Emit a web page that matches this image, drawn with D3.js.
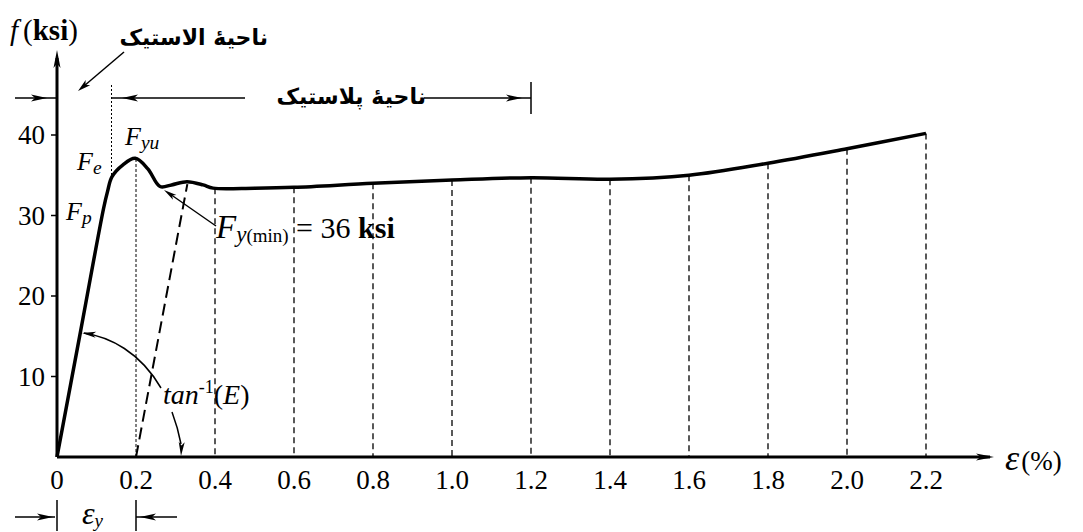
<!DOCTYPE html>
<html>
<head>
<meta charset="utf-8">
<script src="https://cdn.jsdelivr.net/npm/d3@7.9.0/dist/d3.min.js"></script>
<style>
  body { margin: 0; background: #fff; }
  svg { display: block; }
  text { font-family: "Liberation Serif", "Times New Roman", serif; fill: #000; }
  .fa { font-family: "DejaVu Sans", sans-serif; font-weight: bold; }
</style>
</head>
<body>
<svg id="chart" width="1083" height="532"></svg>
<script>
// ---- data ----
const strain = [0, 0.06, 0.118, 0.128, 0.139, 0.167, 0.198, 0.23, 0.261, 0.29, 0.329, 0.37, 0.395,
                0.5, 0.6, 0.8, 1.0, 1.2, 1.4, 1.6, 1.8, 2.0, 2.2];
const stress = [0, 15.7, 30.9, 33.0, 34.8, 36.3, 37.1, 35.8, 33.6, 33.8, 34.2, 33.8, 33.4,
                33.4, 33.5, 34.0, 34.4, 34.7, 34.5, 35.0, 36.5, 38.3, 40.2];
const xTicks = [0, 0.2, 0.4, 0.6, 0.8, 1.0, 1.2, 1.4, 1.6, 1.8, 2.0, 2.2];
const xTickLabels = ['0', '0.2', '0.4', '0.6', '0.8', '1.0', '1.2', '1.4', '1.6', '1.8', '2.0', '2.2'];
const yTicks = [10, 20, 30, 40];
const gridLines = [0.4, 0.6, 0.8, 1.0, 1.2, 1.4, 1.6, 1.8, 2.0, 2.2];
const offsetLine = [[0.2, 0], [0.33, 33.9]];   // 0.2% offset line
const feStrain = 0.138;                          // elastic limit marker

const svg = d3.select('#chart');
const x = d3.scaleLinear().domain([0, 2.2]).range([57, 926]);
const y = d3.scaleLinear().domain([0, 40]).range([457, 135]);

// stress at any strain
const curveAt = s => {
  const i = d3.bisectLeft(strain, s);
  if (i <= 0) return stress[0];
  if (i >= strain.length) return stress[stress.length - 1];
  const t = (s - strain[i - 1]) / (strain[i] - strain[i - 1]);
  return stress[i - 1] + t * (stress[i] - stress[i - 1]);
};

// arrow head: tip at (tx,ty), pointing along angle (radians)
function head(tx, ty, ang, len = 15, w = 3.5) {
  const c = Math.cos(ang), s = Math.sin(ang);
  const p = (a, b) => [tx - a * c + b * s, ty - a * s - b * c];
  const pts = [[tx, ty], p(len, w), p(len * 0.75, 0), p(len, -w)];
  svg.append('path').attr('d', 'M' + pts.join('L') + 'Z').attr('fill', '#000');
}
const line = (x1, y1, x2, y2, w = 1.5, dash = null) =>
  svg.append('line').attr('x1', x1).attr('y1', y1).attr('x2', x2).attr('y2', y2)
    .attr('stroke', '#000').attr('stroke-width', w).attr('stroke-dasharray', dash);

// ---- dashed verticals ----
gridLines.forEach(v => line(x(v), y(curveAt(v)), x(v), y(0), 1.3, '6,4'));
line(x(0.2), y(curveAt(0.2)), x(0.2), y(0), 1, '3,2');
line(x(feStrain), 85, x(feStrain), y(curveAt(feStrain)), 1, '2,2');

// offset line
svg.append('path')
  .attr('d', d3.line().x(d => x(d[0])).y(d => y(d[1]))(offsetLine))
  .attr('stroke', '#000').attr('stroke-width', 2).attr('stroke-dasharray', '12,6').attr('fill', 'none');

// ---- axes ----
line(x(0), y(0), 990, y(0), 3);
head(994, y(0), 0, 18, 3.5);
line(x(0), y(0), x(0), 58, 3);
head(x(0), 50, -Math.PI / 2, 18, 3.5);

yTicks.forEach(v => {
  line(51, y(v), x(0), y(v), 1.5);
  svg.append('text').attr('x', 45).attr('y', y(v) + 9).attr('text-anchor', 'end')
    .attr('font-size', 27).text(v);
});
xTicks.forEach((v, i) => {
  svg.append('text').attr('x', x(v)).attr('y', 489).attr('text-anchor', 'middle')
    .attr('font-size', 27).text(xTickLabels[i]);
});

// ---- stress-strain curve ----
svg.append('path')
  .datum(strain.map((s, i) => [s, stress[i]]))
  .attr('d', d3.line().x(d => x(d[0])).y(d => y(d[1])).curve(d3.curveCatmullRom.alpha(0.5)))
  .attr('fill', 'none').attr('stroke', '#000').attr('stroke-width', 3.5).attr('stroke-linejoin', 'round');

// ---- axis titles ----
const ft = svg.append('text').attr('x', 10).attr('y', 40).attr('font-size', 29);
ft.append('tspan').attr('font-style', 'italic').text('f');
ft.append('tspan').attr('dx', 5).text('(');
ft.append('tspan').attr('font-weight', 'bold').text('ksi');
ft.append('tspan').text(')');

const et = svg.append('text').attr('x', 1005).attr('y', 470).attr('font-size', 27);
et.append('tspan').attr('font-style', 'italic').attr('font-size', 36).text('ε');
et.append('tspan').attr('dx', 2).text('(%)');

// ---- labels on the curve ----
const lab = (px, py, main, sub, size = 26) => {
  const t = svg.append('text').attr('x', px).attr('y', py).attr('font-size', size).attr('font-style', 'italic');
  t.append('tspan').text(main);
  t.append('tspan').attr('font-size', size * 0.75).attr('dy', 4).text(sub);
};
lab(77, 170, 'F', 'e');
lab(66, 220, 'F', 'p');
lab(125, 145, 'F', 'yu');

const fy = svg.append('text').attr('x', 216).attr('y', 238).attr('font-size', 30);
fy.append('tspan').attr('font-style', 'italic').attr('font-size', 33).text('F');
fy.append('tspan').attr('font-style', 'italic').attr('font-size', 23).attr('dy', 4).text('y');
fy.append('tspan').attr('font-size', 19).text('(min)');
fy.append('tspan').attr('dy', -4).text(' = 36 ');
fy.append('tspan').attr('font-weight', 'bold').text('ksi');
line(216, 226, 170, 194, 1.5);
head(164, 190, Math.atan2(190 - 226, 164 - 216), 13, 3);

// tan^-1(E)
svg.append('path').attr('d', 'M84,333 C110,337 140,352 161,388')
  .attr('fill', 'none').attr('stroke', '#000').attr('stroke-width', 1.5);
head(82, 333, Math.PI + 0.12, 14, 3);
svg.append('path').attr('d', 'M172,412 Q178,428 181,444')
  .attr('fill', 'none').attr('stroke', '#000').attr('stroke-width', 1.5);
head(181, 456, Math.PI / 2 + 0.05, 14, 3);
const tn = svg.append('text').attr('x', 163).attr('y', 404).attr('font-size', 28);
tn.append('tspan').attr('font-style', 'italic').text('tan');
tn.append('tspan').attr('font-size', 18).attr('dy', -11).text('-1');
tn.append('tspan').attr('dy', 11).text('(');
tn.append('tspan').attr('font-style', 'italic').text('E');
tn.append('tspan').text(')');

// ---- region annotations ----
svg.append('text').attr('class', 'fa').attr('x', 268).attr('y', 45).attr('text-anchor', 'end')
  .attr('font-size', 22).text('ناحیهٔ الاستیک');
line(124, 52, 84, 86, 1.5);
head(78, 91, Math.atan2(91 - 52, 78 - 124), 13, 3.5);

line(15, 98, x(0), 98, 1.5);
head(47, 98, 0, 16, 3.5);
line(x(feStrain), 98, 245, 98, 1.5);
head(122, 98, Math.PI, 16, 3.5);
svg.append('text').attr('class', 'fa').attr('x', 426).attr('y', 104).attr('text-anchor', 'end')
  .attr('font-size', 22).text('ناحیهٔ پلاستیک');
line(424, 98, 531, 98, 1.5);
head(522, 98, 0, 16, 3.5);
line(531, 82, 531, 114, 1.5);

// epsilon_y span
line(15, 517, x(0) - 2, 517, 1.5);
head(53, 517, 0, 16, 3.5);
line(x(0), 500, x(0), 531, 1.5);
line(x(0.2), 500, x(0.2), 531, 1.5);
line(x(0.2), 517, 177, 517, 1.5);
head(140, 517, Math.PI, 16, 3.5);
const ey = svg.append('text').attr('x', 82).attr('y', 524).attr('font-size', 32).attr('font-style', 'italic');
ey.append('tspan').text('ε');
ey.append('tspan').attr('font-size', 19).attr('dy', 3).text('y');
</script>
</body>
</html>
